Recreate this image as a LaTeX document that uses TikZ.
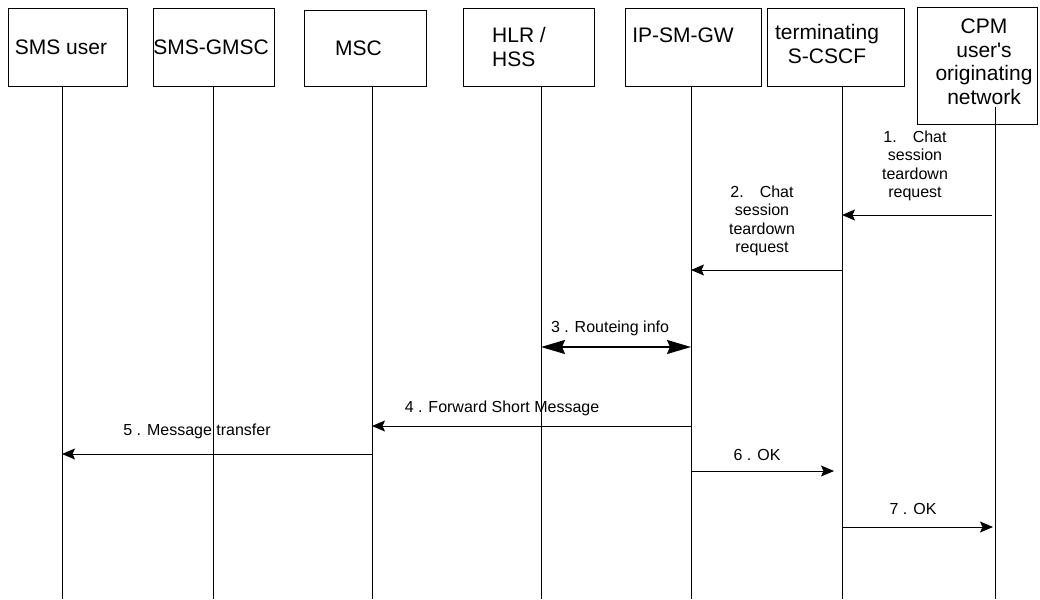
\documentclass[tikz,border=0pt]{standalone}
\usepackage{fontspec}
\setmainfont{Liberation Sans}
\usetikzlibrary{arrows.meta}

\begin{document}
\begin{tikzpicture}
[ x=1pt, y=-1pt, line width=0.9pt
, entity/.style={rectangle, draw, inner sep=0pt}
, entitytext/.style={font=\fontsize{21}{23.5}\selectfont, align=center, inner sep=0pt}
, lifeline/.style={line width=0.9pt}
, msg/.style={-{Stealth[length=13pt, width=11pt, inset=2.5pt]}}
, twoway/.style={{Stealth[length=24pt, width=14pt, inset=3pt]}-{Stealth[length=24pt, width=14pt, inset=3pt]}, line width=1.8pt}
, msgtext/.style={font=\fontsize{16}{18.5}\selectfont, align=center, inner sep=0pt}
]
\useasboundingbox (0,0) rectangle (1040,599);

% Entities:
\node (smsuser) [entity, minimum width=119pt, minimum height=78pt,
  label={[entitytext, xshift=-6.5pt]center:SMS user}] at (67.5,47) {};
\node (gmsc) [entity, minimum width=121pt, minimum height=78pt,
  label={[entitytext, xshift=-2.5pt]center:SMS-GMSC}] at (213.5,47) {};
\node (msc) [entity, minimum width=122pt, minimum height=76pt,
  label={[entitytext, xshift=-6.5pt]center:MSC}] at (365,48) {};
\node (hlr) [entity, minimum width=131pt, minimum height=78pt,
  label={[entitytext, align=left, xshift=-9.5pt]center:HLR /\\HSS}] at (528.5,47) {};
\node (ipsmgw) [entity, minimum width=136pt, minimum height=78pt,
  label={[entitytext, xshift=-10pt, yshift=12pt]center:IP-SM-GW}] at (693,47) {};
\node (scscf) [entity, minimum width=137pt, minimum height=78pt,
  label={[entitytext, xshift=-8.5pt, yshift=3pt]center:terminating\\S-CSCF}] at (835.5,47) {};
\node (cpm) [entity, minimum width=120pt, minimum height=117pt,
  label={[entitytext, xshift=7pt, yshift=3.5pt]center:CPM\\user\textquotesingle s\\originating\\network}] at (977,65.5) {};

% Lifelines:
\coordinate (smsuser-end) at (62,599);
\coordinate (gmsc-end) at (213,599);
\coordinate (msc-end) at (372,599);
\coordinate (hlr-end) at (541,599);
\coordinate (ipsmgw-end) at (691,599);
\coordinate (scscf-end) at (842,599);
\coordinate (cpm-end) at (995,599);
\foreach \e in {smsuser, gmsc, msc, hlr, ipsmgw, scscf}
  \draw [lifeline] (\e-end |- \e.south) -- (\e-end);
\draw [lifeline] ([yshift=17pt]cpm-end |- cpm.south) -- (cpm-end);

% Message rows:
\coordinate (row1) at (0,215);
\coordinate (row2) at (0,270);
\coordinate (row3) at (0,347);
\coordinate (row4) at (0,426);
\coordinate (row5) at (0,454);
\coordinate (row6) at (0,471);
\coordinate (row7) at (0,527);

\draw [msg] ([xshift=-3pt]cpm-end |- row1) -- (scscf-end |- row1);
\draw [msg] (scscf-end |- row2) -- (ipsmgw-end |- row2);
\draw [twoway] (hlr-end |- row3) -- (ipsmgw-end |- row3);
\draw [msg] (ipsmgw-end |- row4) -- (msc-end |- row4);
\draw [msg] (msc-end |- row5) -- (smsuser-end |- row5);
\draw [msg] (ipsmgw-end |- row6) -- ([xshift=-8pt]scscf-end |- row6);
\draw [msg] (scscf-end |- row7) -- ([xshift=-2pt]cpm-end |- row7);

% Message labels:
\node (chat1) [msgtext] at (915,166) {1.\quad Chat\\session\\teardown\\request};
\node (chat2) [msgtext] at (762,221) {2.\quad Chat\\session\\teardown\\request};
\node (routeing) [msgtext] at (610,328) {3 . Routeing info};
\node (forward) [msgtext] at (502,408) {4 . Forward Short Message};
\node (transfer) [msgtext] at (197,431) {5 . Message transfer};
\node (ok6) [msgtext] at (757,455) {6 . OK};
\node (ok7) [msgtext] at (913,509) {7 . OK};
\end{tikzpicture}
\end{document}
